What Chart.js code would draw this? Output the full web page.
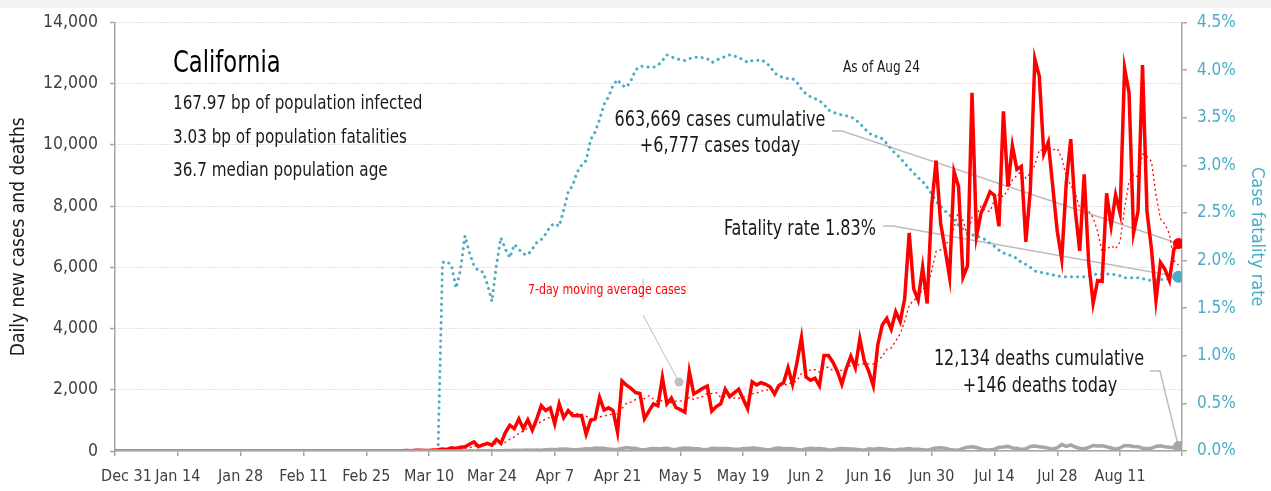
<!DOCTYPE html>
<html>
<head>
<meta charset="utf-8">
<title>California</title>
<script src="https://cdn.jsdelivr.net/npm/chart.js@4.4.1/dist/chart.umd.min.js"></script>
<style>
  html, body { margin: 0; padding: 0; background: #fff; }
  .wrap { position: relative; width: 1271px; height: 491px; }
  .topbar { position: absolute; left: 0; top: 0; width: 1271px; height: 8px; background: #f2f2f2; }
  canvas { position: absolute; left: 0; top: 0; }
</style>
</head>
<body>
<div class="wrap">
  <canvas id="grafico" width="1271" height="491"></canvas>
  <div class="topbar"></div>
</div>
<script>
// ===== Dados (um valor por dia, de Dec 31 até Aug 24) =====
const tickLabels = ['Dec 31', 'Jan 14', 'Jan 28', 'Feb 11', 'Feb 25', 'Mar 10', 'Mar 24', 'Apr 7',
  'Apr 21', 'May 5', 'May 19', 'Jun 2', 'Jun 16', 'Jun 30', 'Jul 14', 'Jul 28', 'Aug 11'];

const dailyCases = [
  0, 0, 0, 0, 0, 0, 0, 0, 0, 0, 0, 0, 0, 0,
  0, 0, 0, 0, 0, 0, 0, 0, 0, 0, 0, 0, 0, 0,
  0, 0, 0, 0, 0, 0, 0, 0, 0, 0, 0, 0, 0, 0,
  0, 0, 0, 0, 0, 0, 0, 0, 0, 0, 0, 0, 0, 0,
  0, 0, 0, 0, 0, 2, 3, 6, 10, 13, 10, 21, 26, 19,
  19, 36, 45, 67, 52, 107, 85, 120, 140, 220, 300, 140, 200, 250,
  190, 375, 250, 600, 840, 730, 1050, 730, 1020, 680, 1050, 1480, 1320, 1410,
  890, 1540, 1090, 1320, 1160, 1150, 1160, 550, 1000, 1050, 1750, 1340, 1410, 1320,
  620, 2290, 2150, 2050, 1910, 1880, 1050, 1300, 1540, 1480, 2400, 1540, 1730, 1420,
  1350, 1270, 2590, 1860, 1950, 2050, 2120, 1300, 1450, 1540, 2020, 1780, 1900, 2020,
  1700, 1380, 2260, 2160, 2230, 2180, 2100, 1860, 2150, 2230, 2720, 2180, 2900, 3710,
  2420, 2310, 2380, 2130, 3120, 3120, 2900, 2600, 2180, 2700, 3100, 2720, 3670, 2940,
  2600, 2130, 3470, 4120, 4330, 3980, 4550, 4230, 4980, 7130, 5300, 4930, 6000, 4820,
  7990, 9490, 7450, 6590, 5680, 9120, 8640, 5680, 6050, 11700, 7020, 7770, 8100, 8470,
  8350, 7340, 11100, 8640, 9980, 9200, 9300, 6830, 8530, 12810, 12240, 9710, 10090, 8640,
  7180, 6270, 8740, 10190, 7880, 6540, 9040, 6160, 4820, 5570, 5540, 8420, 7360, 8370,
  7770, 12510, 11700, 7130, 7830, 12610, 7830, 6590, 4920, 6160, 5940, 5570, 6590, 6777
];

const movingAvg = [
  0, 0, 0, 0, 0, 0, 0, 0, 0, 0, 0, 0, 0, 0,
  0, 0, 0, 0, 0, 0, 0, 0, 0, 0, 0, 0, 0, 0,
  0, 0, 0, 0, 0, 0, 0, 0, 0, 0, 0, 0, 0, 0,
  0, 0, 0, 0, 0, 0, 0, 0, 0, 0, 0, 0, 0, 0,
  0, 0, 0, 0, 0, 0, 1, 2, 3, 5, 6, 9, 13, 15,
  17, 21, 25, 33, 38, 49, 59, 73, 88, 113, 146, 159, 172, 196,
  206, 239, 244, 286, 386, 462, 576, 654, 746, 807, 871, 963, 1047, 1099,
  1121, 1196, 1254, 1293, 1247, 1223, 1187, 1139, 1061, 1056, 1117, 1143, 1180, 1203,
  1213, 1397, 1554, 1597, 1679, 1746, 1707, 1804, 1697, 1601, 1651, 1599, 1577, 1630,
  1637, 1599, 1757, 1680, 1739, 1784, 1884, 1877, 1903, 1753, 1776, 1751, 1730, 1716,
  1773, 1763, 1866, 1886, 1950, 1990, 2001, 2024, 2134, 2130, 2210, 2203, 2306, 2536,
  2616, 2639, 2660, 2576, 2710, 2741, 2626, 2651, 2633, 2679, 2817, 2760, 2839, 2844,
  2844, 2837, 2947, 3093, 3323, 3367, 3597, 3830, 4237, 4760, 4929, 5014, 5303, 5341,
  5879, 6523, 6569, 6753, 6860, 7306, 7851, 7521, 7030, 7637, 7699, 7997, 7851, 7827,
  8209, 8393, 8307, 8539, 8854, 9011, 9130, 8913, 9083, 9327, 9841, 9803, 9930, 9836,
  9886, 9563, 8981, 8689, 8427, 7920, 7977, 7831, 7624, 7171, 6507, 6584, 6701, 6606,
  6836, 7934, 8810, 9037, 8953, 9703, 9626, 9457, 8373, 7581, 7410, 7087, 6227, 6077
];

const dailyDeaths = [
  0, 0, 0, 0, 0, 0, 0, 0, 0, 0, 0, 0, 0, 0,
  0, 0, 0, 0, 0, 0, 0, 0, 0, 0, 0, 0, 0, 0,
  0, 0, 0, 0, 0, 0, 0, 0, 0, 0, 0, 0, 0, 0,
  0, 0, 0, 0, 0, 0, 0, 0, 0, 0, 0, 0, 0, 0,
  0, 0, 0, 0, 0, 0, 0, 0, 1, 0, 0, 1, 0, 1,
  1, 1, 0, 1, 1, 2, 1, 5, 3, 5, 4, 6, 5, 6,
  13, 11, 12, 18, 14, 21, 22, 25, 30, 28, 35, 22, 40, 51,
  45, 55, 68, 61, 40, 39, 55, 71, 70, 95, 86, 88, 62, 49,
  61, 84, 115, 87, 88, 50, 37, 63, 82, 71, 80, 93, 55, 51,
  79, 95, 89, 80, 75, 40, 47, 93, 84, 82, 79, 70, 55, 54,
  84, 79, 95, 90, 68, 48, 35, 85, 98, 74, 80, 70, 50, 32,
  63, 87, 75, 80, 65, 45, 31, 65, 80, 70, 62, 55, 42, 28,
  72, 60, 84, 72, 58, 36, 32, 60, 69, 82, 54, 60, 40, 21,
  65, 100, 105, 91, 48, 36, 25, 85, 125, 140, 112, 70, 40, 31,
  60, 120, 130, 150, 100, 90, 50, 70, 150, 160, 140, 125, 95, 60,
  110, 210, 150, 200, 130, 90, 70, 120, 180, 160, 170, 140, 100, 60,
  100, 180, 170, 150, 140, 90, 70, 90, 150, 170, 140, 120, 110, 146
];

// taxa de letalidade em %
const fatalityRate = [
  0, 0, 0, 0, 0, 0, 0, 0, 0, 0, 0, 0, 0, 0,
  0, 0, 0, 0, 0, 0, 0, 0, 0, 0, 0, 0, 0, 0,
  0, 0, 0, 0, 0, 0, 0, 0, 0, 0, 0, 0, 0, 0,
  0, 0, 0, 0, 0, 0, 0, 0, 0, 0, 0, 0, 0, 0,
  0, 0, 0, 0, 0, 0, 0, 0, 0, 0, 0, 0, 0, 0,
  0, 0, 0, 1.98, 1.99, 1.95, 1.71, 1.9, 2.26, 2.08, 1.95, 1.89, 1.88, 1.75,
  1.57, 1.95, 2.24, 2.12, 2.03, 2.17, 2.12, 2.07, 2.06, 2.12, 2.19, 2.22, 2.28, 2.36,
  2.39, 2.36, 2.53, 2.72, 2.79, 2.93, 3.0, 3.05, 3.27, 3.35, 3.48, 3.64, 3.72, 3.84,
  3.9, 3.84, 3.82, 3.89, 4.0, 4.04, 4.04, 4.03, 4.03, 4.05, 4.1, 4.16, 4.14, 4.12,
  4.11, 4.1, 4.12, 4.13, 4.14, 4.13, 4.12, 4.08, 4.1, 4.13, 4.14, 4.16, 4.15, 4.13,
  4.11, 4.08, 4.1, 4.1, 4.11, 4.08, 4.04, 3.97, 3.94, 3.92, 3.91, 3.91, 3.87, 3.8,
  3.75, 3.72, 3.7, 3.68, 3.64, 3.58, 3.56, 3.54, 3.53, 3.52, 3.51, 3.48, 3.44, 3.39,
  3.34, 3.31, 3.3, 3.28, 3.23, 3.17, 3.12, 3.08, 3.02, 2.97, 2.92, 2.87, 2.83, 2.77,
  2.7, 2.62, 2.57, 2.52, 2.48, 2.42, 2.37, 2.33, 2.29, 2.27, 2.26, 2.24, 2.22, 2.18,
  2.15, 2.11, 2.08, 2.06, 2.05, 2.02, 1.98, 1.96, 1.93, 1.89, 1.88, 1.87, 1.86, 1.85,
  1.84, 1.83, 1.83, 1.83, 1.83, 1.83, 1.83, 1.84, 1.85, 1.86, 1.86, 1.86, 1.86, 1.85,
  1.84, 1.82, 1.82, 1.82, 1.82, 1.81, 1.8, 1.79, 1.79, 1.8, 1.8, 1.81, 1.82, 1.83
];

const infoLines = ['167.97 bp of population infected', '3.03 bp of population fatalities', '36.7 median population age'];

// ===== Estilo =====
const FONT = "'DejaVu Sans Condensed', 'Liberation Sans Narrow', sans-serif";
const RED = '#FF0000';
const TEAL = '#4BACC6';
const GRAY = '#A6A6A6';
const LEADER = '#BDBDBD';

Chart.defaults.font.family = FONT;
Chart.defaults.color = '#404040';

const lastIndex = dailyCases.length - 1;
const toPoints = arr => arr.map((v, i) => ({ x: i, y: v }));
const endDot = r => ctx => (ctx.dataIndex === lastIndex ? r : 0);

// ===== Anotações (textos e linhas de chamada) =====
const annotations = {
  id: 'annotations',
  beforeDatasetsDraw(chart) {
    const { ctx, scales: { x, y, y1 } } = chart;
    const xe = x.getPixelForValue(lastIndex);
    const poly = pts => {
      ctx.beginPath();
      pts.forEach((p, i) => (i ? ctx.lineTo(p[0], p[1]) : ctx.moveTo(p[0], p[1])));
      ctx.stroke();
    };
    ctx.save();
    ctx.strokeStyle = LEADER;
    ctx.lineWidth = 1.5;
    poly([[832, 131], [842, 131], [xe, y.getPixelForValue(dailyCases[lastIndex])]]);
    poly([[883, 226], [893, 226], [xe, y1.getPixelForValue(fatalityRate[lastIndex])]]);
    poly([[1150, 371], [1160, 371], [xe, y.getPixelForValue(dailyDeaths[lastIndex])]]);
    ctx.lineWidth = 1;
    poly([[643, 279], [643, 300]]);
    poly([[643, 315], [679, 382]]);
    ctx.fillStyle = '#BFBFBF';
    ctx.beginPath();
    ctx.arc(679, 382, 4.5, 0, Math.PI * 2);
    ctx.fill();
    ctx.restore();
  },
  afterDraw(chart) {
    const ctx = chart.ctx;
    // texto condensado na horizontal (fonte estreita do original)
    const text = (s, px, x, yy, align, color, sx) => {
      ctx.save();
      ctx.font = px + 'px ' + FONT;
      ctx.textAlign = align || 'left';
      ctx.textBaseline = 'alphabetic';
      ctx.fillStyle = color || '#1a1a1a';
      ctx.translate(x, yy);
      ctx.scale(sx || 0.87, 1);
      ctx.fillText(s, 0, 0);
      ctx.restore();
    };
    text('California', 30, 173, 72, 'left', '#000', 0.84);
    infoLines.forEach((s, i) => text(s, 19, 173, [109, 143, 176][i], 'left', '#1a1a1a', 0.89));
    text('As of Aug 24', 15, 843, 72, 'left', '#1a1a1a', 0.9);
    text('663,669 cases cumulative', 20.5, 720, 126, 'center');
    text('+6,777 cases today', 20.5, 720, 152, 'center');
    text('Fatality rate 1.83%', 20.5, 876, 235, 'right');
    text('12,134 deaths cumulative', 20.5, 1039, 365, 'center');
    text('+146 deaths today', 20.5, 1040, 392, 'center');
    text('7-day moving average cases', 14.5, 528, 294, 'left', RED, 0.84);
  }
};

new Chart(document.getElementById('grafico').getContext('2d'), {
  type: 'line',
  data: {
    datasets: [
      { label: 'Deaths', data: toPoints(dailyDeaths), yAxisID: 'y', order: 0,
        borderColor: GRAY, backgroundColor: GRAY, borderWidth: 3.5, pointRadius: endDot(5.5), pointBorderWidth: 0 },
      { label: 'Cases', data: toPoints(dailyCases), yAxisID: 'y', order: 1,
        borderColor: RED, backgroundColor: RED, borderWidth: 3.5, pointRadius: endDot(5.5), pointBorderWidth: 0 },
      { label: '7-day moving average cases', data: toPoints(movingAvg), yAxisID: 'y', order: 2,
        borderColor: RED, borderWidth: 1.3, borderDash: [2, 3], pointRadius: 0 },
      { label: 'Case fatality rate', data: toPoints(fatalityRate), yAxisID: 'y1', order: 3,
        borderColor: TEAL, backgroundColor: TEAL, borderWidth: 3, borderDash: [0.1, 6], borderCapStyle: 'round',
        pointRadius: endDot(6), pointBorderWidth: 0 }
    ]
  },
  options: {
    responsive: false,
    animation: false,
    layout: { padding: { top: 17, left: 0, right: 0, bottom: 0 } },
    elements: { line: { tension: 0 } },
    plugins: { legend: { display: false }, tooltip: { enabled: false } },
    scales: {
      x: {
        type: 'linear', min: 0, max: 237.8,
        afterBuildTicks: s => {
          s.ticks = tickLabels.map((_, k) => ({ value: k * 14 })).concat([{ value: 237.8 }]);
        },
        ticks: {
          autoSkip: false, maxRotation: 0, padding: 11, color: '#404040',
          font: { size: 16 },
          callback: v => {
            const k = v / 14;
            if (!Number.isInteger(k) || !tickLabels[k]) return '';
            return k === 0 ? '\u2007\u2007\u2008' + tickLabels[k] : tickLabels[k];
          }
        },
        grid: { drawOnChartArea: false, drawTicks: true, tickLength: 5, color: GRAY, lineWidth: 1.5 },
        border: { display: true, color: GRAY, width: 1.5 },
        afterFit: s => { s.height = 40; }
      },
      y: {
        position: 'left', min: 0, max: 14000,
        ticks: { stepSize: 2000, padding: 12, font: { size: 17.5 }, color: '#404040',
          callback: v => v.toLocaleString('en-US') },
        grid: { color: '#C4C4C4', lineWidth: 1, tickLength: 5, tickColor: GRAY, tickWidth: 1.5 },
        border: { display: true, color: GRAY, width: 1.5, dash: [1, 2] },
        title: { display: true, text: 'Daily new cases and deaths', font: { size: 19 }, color: '#1a1a1a',
          padding: { top: 8, bottom: 0 } },
        afterFit: s => { s.width = 115; }
      },
      y1: {
        position: 'right', min: 0, max: 4.5,
        ticks: { stepSize: 0.5, padding: 10, font: { size: 17 }, color: TEAL,
          callback: v => v.toFixed(1) + '%' },
        grid: { drawOnChartArea: false, tickLength: 5, color: GRAY, lineWidth: 1.5 },
        border: { display: true, color: GRAY, width: 1.5 },
        title: { display: true, text: 'Case fatality rate', font: { size: 18 }, color: TEAL,
          padding: { top: 4, bottom: 4 } },
        afterFit: s => { s.width = 89; }
      }
    }
  },
  plugins: [annotations]
});
</script>
</body>
</html>
